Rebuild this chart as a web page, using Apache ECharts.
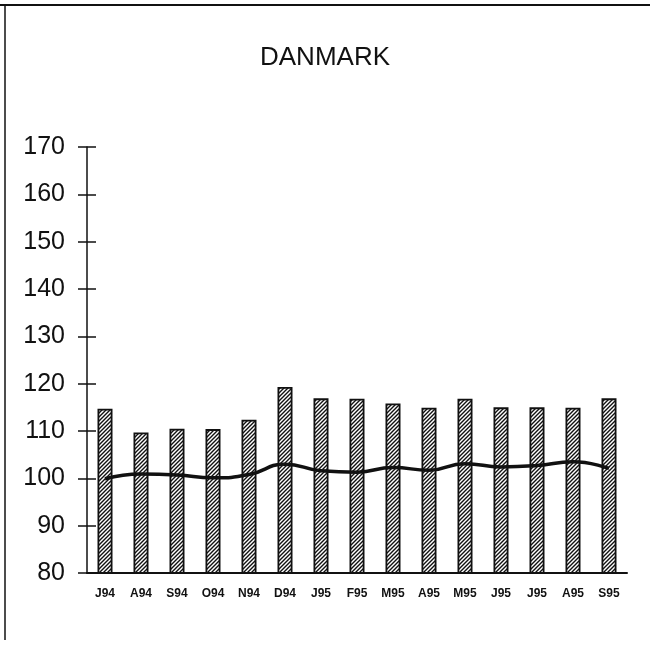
<!DOCTYPE html>
<html>
<head>
<meta charset="utf-8">
<script src="https://cdn.jsdelivr.net/npm/echarts@6/dist/echarts.min.js"></script>
<style>
  html, body { margin: 0; padding: 0; background: #fff; }
  #chart { width: 650px; height: 646px; }
</style>
</head>
<body>
<div id="chart"></div>
<script>
const months = ['J94', 'A94', 'S94', 'O94', 'N94', 'D94', 'J95', 'F95', 'M95', 'A95', 'M95', 'J95', 'J95', 'A95', 'S95']
const barValues = [114.7, 109.7, 110.5, 110.4, 112.4, 119.3, 116.9, 116.8, 115.8, 114.9, 116.8, 115.0, 115.0, 114.9, 116.9]
const lineValues = [99.9, 100.9, 100.7, 100.1, 100.8, 103.0, 101.6, 101.3, 102.3, 101.7, 103.1, 102.4, 102.7, 103.5, 102.1]
const yTicks = [80, 90, 100, 110, 120, 130, 140, 150, 160, 170]

// hatch pattern for the bars
const makeHatch = () => {
  const c = document.createElement('canvas')
  c.width = 4
  c.height = 4
  const ctx = c.getContext('2d')
  ctx.fillStyle = '#fff'
  ctx.fillRect(0, 0, 4, 4)
  ctx.strokeStyle = '#111'
  ctx.lineWidth = 1.4
  ctx.beginPath()
  ctx.moveTo(-1, 5); ctx.lineTo(5, -1)
  ctx.moveTo(-1, 1); ctx.lineTo(1, -1)
  ctx.moveTo(3, 5); ctx.lineTo(5, 3)
  ctx.stroke()
  return c
}

const chart = echarts.init(document.getElementById('chart'))
const font = 'Liberation Sans, Arial, sans-serif'

chart.setOption({
  animation: false,
  backgroundColor: '#fff',
  title: {
    text: 'DANMARK',
    left: 'center',
    top: 40,
    textStyle: { fontFamily: font, fontSize: 26, fontWeight: 'normal', color: '#111' }
  },
  graphic: [
    { type: 'line', shape: { x1: 0, y1: 5, x2: 650, y2: 5 }, style: { stroke: '#111', lineWidth: 2 } },
    { type: 'line', shape: { x1: 5, y1: 5, x2: 5, y2: 640 }, style: { stroke: '#111', lineWidth: 1.5 } }
  ],
  grid: { left: 87, right: 23, top: 147, bottom: 73 },
  xAxis: {
    type: 'category',
    data: months,
    axisLine: { lineStyle: { color: '#111', width: 2 } },
    axisTick: { show: false },
    axisLabel: { color: '#111', fontFamily: font, fontSize: 12, fontWeight: 'bold', margin: 15 }
  },
  yAxis: [{
    type: 'value',
    min: yTicks[0],
    max: yTicks[yTicks.length - 1],
    interval: 10,
    axisLine: { show: true, lineStyle: { color: '#111', width: 1.5 } },
    axisTick: { show: true, length: 9, lineStyle: { color: '#111', width: 1.5 } },
    axisLabel: { color: '#111', fontFamily: font, fontSize: 25, margin: 22 },
    splitLine: { show: false }
  }, {
    type: 'value',
    position: 'left',
    min: yTicks[0],
    max: yTicks[yTicks.length - 1],
    interval: 10,
    axisLine: { show: false },
    axisTick: { show: true, inside: true, length: 9, lineStyle: { color: '#111', width: 1.5 } },
    axisLabel: { show: false },
    splitLine: { show: false }
  }],
  series: [{
    type: 'bar',
    data: barValues,
    barWidth: 15,
    itemStyle: {
      color: { image: makeHatch(), repeat: 'repeat' },
      borderColor: '#111',
      borderWidth: 1.8
    }
  }, {
    type: 'line',
    data: lineValues,
    smooth: true,
    symbol: 'none',
    lineStyle: { color: '#111', width: 3.5 }
  }]
})
</script>
</body>
</html>
